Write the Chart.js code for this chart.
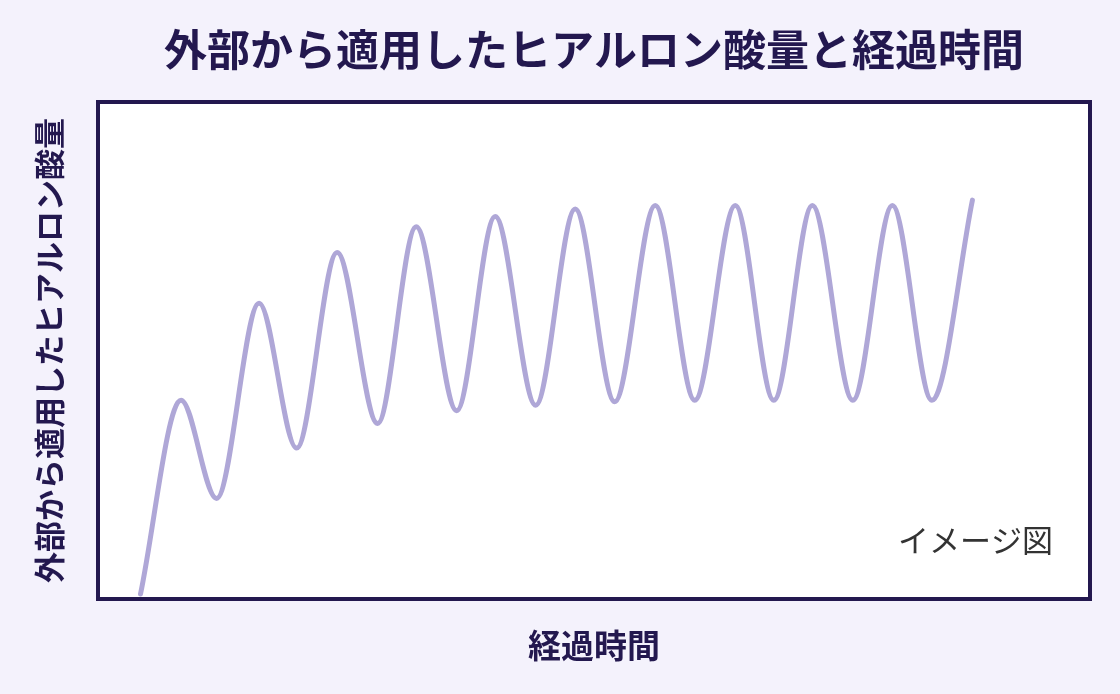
<!DOCTYPE html>
<html lang="ja">
<head>
<meta charset="utf-8">
<title>外部から適用したヒアルロン酸量と経過時間</title>
<script src="https://cdn.jsdelivr.net/npm/chart.js@4.4.1/dist/chart.umd.min.js"></script>
<style>
  html, body { margin: 0; padding: 0; background: #f4f2fc; }
  #wrap { width: 1120px; height: 694px; }
</style>
</head>
<body>
<div id="wrap"><canvas id="haChart"></canvas></div>
<script>
// 経過時間 (任意単位) と ヒアルロン酸量 (任意単位) — 図から読み取った山と谷
const elapsed = [4.1, 8.2, 11.8, 16.1, 19.9, 24.0, 28.1, 32.0, 36.1, 40.0, 44.1,
                 48.1, 52.1, 56.2, 60.2, 64.3, 68.2, 72.1, 76.2, 80.2, 84.2, 88.3];
const amount = [0.6, 39.9, 20.0, 59.6, 30.2, 69.9, 35.2, 75.1, 37.8, 77.2, 38.9,
                78.7, 39.6, 79.4, 39.9, 79.4, 39.9, 79.4, 39.9, 79.4, 39.9, 80.5];
const xRange = [0, 100];
const yRange = [0, 100];

const titleText = '外部から適用したヒアルロン酸量と経過時間';
const yTitle = '外部から適用したヒアルロン酸量';
const xTitle = '経過時間';
const noteText = 'イメージ図';

const NAVY = '#23184f';
const LINE = '#afa7d7';
const JP = "'Noto Sans CJK JP', 'Noto Sans', sans-serif";

// white plot area + thick frame + note
const frame = {
    id: 'frame',
    beforeDatasetsDraw(chart) {
        const { ctx, chartArea: a } = chart;
        ctx.save();
        ctx.fillStyle = '#ffffff';
        ctx.fillRect(a.left, a.top, a.right - a.left, a.bottom - a.top);
        ctx.restore();
    },
    afterDraw(chart) {
        const { ctx, chartArea: a } = chart;
        ctx.save();
        ctx.strokeStyle = NAVY;
        ctx.lineWidth = 4;
        ctx.strokeRect(a.left - 2, a.top - 2, a.right - a.left + 4, a.bottom - a.top + 4);
        ctx.fillStyle = '#333333';
        ctx.font = "400 31px " + JP;
        ctx.textAlign = 'right';
        ctx.textBaseline = 'middle';
        ctx.fillText(noteText, a.right - 35, a.bottom - 57);
        ctx.restore();
    }
};

document.addEventListener("DOMContentLoaded", () => {
    const ctx = document.getElementById("haChart").getContext("2d");
    new Chart(ctx, {
        type: 'line',
        data: {
            datasets: [{
                data: elapsed.map((t, i) => ({ x: t, y: amount[i] })),
                borderColor: LINE,
                borderWidth: 5,
                borderCapStyle: 'round',
                borderJoinStyle: 'round',
                pointRadius: 0,
                fill: false,
                cubicInterpolationMode: 'monotone'
            }]
        },
        options: {
            responsive: true,
            maintainAspectRatio: false,
            animation: false,
            events: [],
            layout: { padding: { left: 0, right: 32, top: 0, bottom: 0 } },
            plugins: {
                legend: { display: false },
                tooltip: { enabled: false },
                title: {
                    display: true,
                    text: titleText,
                    color: NAVY,
                    fullSize: false,
                    font: { family: JP, size: 43, weight: 'bold', lineHeight: 1.2 },
                    padding: { top: 24, bottom: 28.4 }
                }
            },
            scales: {
                x: {
                    type: 'linear',
                    min: xRange[0],
                    max: xRange[1],
                    ticks: { display: false },
                    grid: { display: false, drawTicks: false },
                    border: { display: false },
                    title: {
                        display: true,
                        text: xTitle,
                        color: NAVY,
                        font: { family: JP, size: 33, weight: 'bold', lineHeight: 1.2 },
                        padding: { top: 28.2, bottom: 29.2 }
                    }
                },
                y: {
                    min: yRange[0],
                    max: yRange[1],
                    ticks: { display: false },
                    grid: { display: false, drawTicks: false },
                    border: { display: false },
                    title: {
                        display: true,
                        text: yTitle,
                        color: NAVY,
                        font: { family: JP, size: 31, weight: 'bold', lineHeight: 1.2 },
                        padding: { top: 30.4, bottom: 32.4 }
                    }
                }
            }
        },
        plugins: [frame]
    });
});
</script>
</body>
</html>
